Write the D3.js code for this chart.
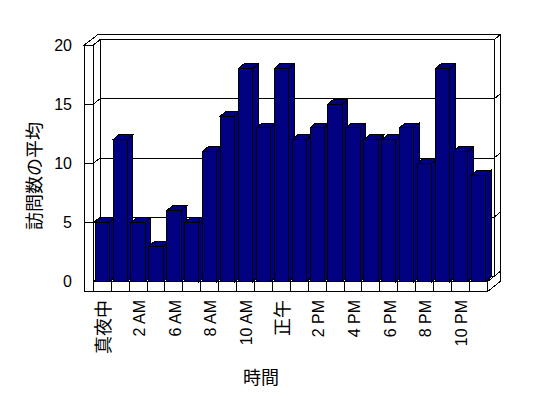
<!DOCTYPE html>
<html>
<head>
<meta charset="utf-8">
<script src="https://cdn.jsdelivr.net/npm/d3@7"></script>
<style>
  body { margin: 0; background: #fff; }
  svg { display: block; }
  text { font-family: "Liberation Sans", "Noto Sans CJK JP", sans-serif; fill: #000; }
</style>
</head>
<body>
<div id="chart"></div>
<script>
// hours that have data (4 AM and 5 AM are missing in the source)
const HOURS = ["真夜中", "1 AM", "2 AM", "3 AM", "6 AM", "7 AM", "8 AM", "9 AM", "10 AM", "11 AM",
  "正午", "1 PM", "2 PM", "3 PM", "4 PM", "5 PM", "6 PM", "7 PM", "8 PM", "9 PM", "10 PM", "11 PM"]
const VISITS = [5, 12, 5, 3, 6, 5, 11, 14, 18, 13, 18, 12, 13, 15, 13, 12, 12, 13, 10, 18, 11, 9]
const Y_TICKS = [0, 5, 10, 15, 20]
const Y_TITLE = "訪問数の平均"
const X_TITLE = "時間"

const width = 548, height = 398
// front plane of the 3d box
const plotL = 93.3, plotR = 487.3, plotB = 281.7, plotT = 45
const wallW = 9          // left wall thickness
const floorH = 10        // floor thickness
const dx = 6.7, dy = -5.3   // front plane -> inner face of back wall (back wall is as thick again)
const bdx = 5.5, bdy = -4.7 // bar depth
const NAVY = "#000080"

const svg = d3.select("#chart").append("svg")
  .attr("width", width)
  .attr("height", height)
  .attr("viewBox", `0 0 ${width} ${height}`)

const x = d3.scaleBand()
  .domain(HOURS)
  .range([plotL, plotR])
  .paddingInner(0.2)
  .paddingOuter(0.1)

const y = d3.scaleLinear()
  .domain([0, 20])
  .range([plotB, plotT])

const step = x.step()
const pts = a => a.map(p => p.join(",")).join(" ")

function poly(g, points, fill) {
  return g.append("polygon")
    .attr("points", pts(points))
    .attr("fill", fill)
    .attr("stroke", "#000")
    .attr("stroke-width", 1)
}

const box = svg.append("g").attr("class", "box").attr("shape-rendering", "crispEdges")
const y0 = y(0), yTop = y(20)
const L = plotL, R = plotR

// back wall inner face
poly(box, [[L + dx, yTop + dy], [R + dx, yTop + dy], [R + dx, y0 + dy], [L + dx, y0 + dy]], "#fff")
// back wall right side
poly(box, [[R + dx, yTop + dy], [R + 2 * dx, yTop + 2 * dy], [R + 2 * dx, y0 + 2 * dy], [R + dx, y0 + dy]], "#fff")
// left wall inner face
poly(box, [[L, yTop], [L + dx, yTop + dy], [L + dx, y0 + dy], [L, y0]], "#fff")
// top of walls
poly(box, [[L - wallW, yTop], [L - wallW + 2 * dx + 0.4, yTop + 2 * dy], [R + 2 * dx, yTop + 2 * dy],
  [R + dx, yTop + dy], [L + dx, yTop + dy], [L, yTop]], "#fff")
// left wall front face
poly(box, [[L - wallW, yTop], [L, yTop], [L, y0 + floorH], [L - wallW, y0 + floorH]], "#fff")
// floor top
poly(box, [[L, y0], [R, y0], [R + dx, y0 + dy], [L + dx, y0 + dy]], "#fff")
// floor right side
poly(box, [[R, y0], [R + 2 * dx, y0 + 2 * dy], [R + 2 * dx, y0 + 2 * dy + floorH], [R, y0 + floorH]], "#fff")
// floor front face
poly(box, [[L, y0], [R, y0], [R, y0 + floorH], [L, y0 + floorH]], "#fff")

// gridlines running round the walls
const grid = box.append("g").attr("class", "grid")
Y_TICKS.filter(v => v > 0 && v < 20).forEach(v => {
  const gy = y(v)
  grid.append("polyline")
    .attr("points", pts([[L - wallW, gy], [L, gy], [L + dx, gy + dy], [R + dx, gy + dy], [R + 2 * dx, gy + 2 * dy]]))
    .attr("fill", "none")
    .attr("stroke", "#000")
})

// category ticks on the floor front
box.append("g").selectAll("line")
  .data(HOURS.slice(1))
  .join("line")
  .attr("x1", d => x(d) - step * 0.1)
  .attr("x2", d => x(d) - step * 0.1)
  .attr("y1", y0)
  .attr("y2", y0 + floorH)
  .attr("stroke", "#000")

// bars, left to right so each one hides the side of the one before
const bars = svg.append("g").attr("class", "bars").attr("shape-rendering", "crispEdges")
HOURS.forEach((h, i) => {
  const bx = x(h), bw = x.bandwidth(), by = y(VISITS[i])
  const g = bars.append("g")
  poly(g, [[bx + bw, by], [bx + bw + bdx, by + bdy], [bx + bw + bdx, y0 + bdy], [bx + bw, y0]], NAVY)
  poly(g, [[bx, by], [bx + bdx, by + bdy], [bx + bw + bdx, by + bdy], [bx + bw, by]], NAVY)
  poly(g, [[bx, by], [bx + bw, by], [bx + bw, y0], [bx, y0]], NAVY)
})

// y tick labels
svg.append("g").selectAll("text")
  .data(Y_TICKS)
  .join("text")
  .attr("x", 72)
  .attr("y", d => y(d))
  .attr("dy", "0.36em")
  .attr("text-anchor", "end")
  .attr("font-size", 16)
  .text(d => d)

// x tick labels, every other hour (kanji ones come out a bit bigger)
svg.append("g").selectAll("text")
  .data(HOURS.filter((d, i) => i % 2 === 0))
  .join("text")
  .attr("transform", d => `translate(${x(d) + x.bandwidth() / 2 + 1},300) rotate(-90)`)
  .attr("text-anchor", "end")
  .attr("dy", "0.36em")
  .attr("font-size", d => /[0-9A-Z]/.test(d) ? 16 : 18)
  .text(d => d)

// axis titles
svg.append("text")
  .attr("transform", "translate(35,176) rotate(-90)")
  .attr("text-anchor", "middle")
  .attr("dy", "0.36em")
  .attr("font-size", 18)
  .text(Y_TITLE)

svg.append("text")
  .attr("x", 261)
  .attr("y", 378)
  .attr("text-anchor", "middle")
  .attr("dy", "0.36em")
  .attr("font-size", 18)
  .text(X_TITLE)
</script>
</body>
</html>
